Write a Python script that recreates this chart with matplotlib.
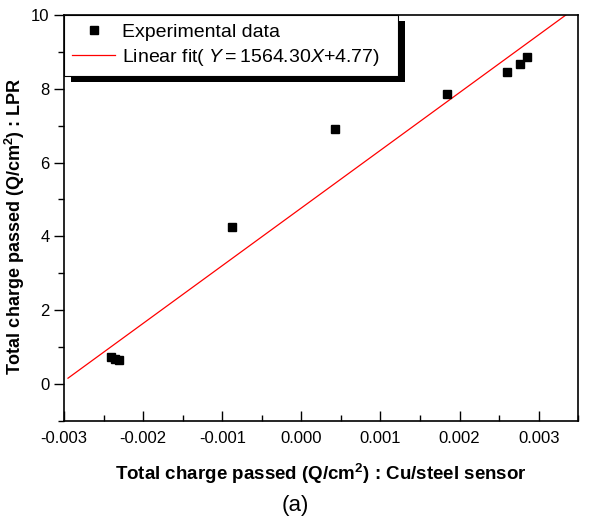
import numpy as np
import matplotlib.pyplot as plt
from matplotlib.patches import Rectangle
from matplotlib.transforms import IdentityTransform
from matplotlib.ticker import MultipleLocator

plt.rcParams['font.family'] = ['Liberation Sans', 'DejaVu Sans']
plt.rcParams['mathtext.fontset'] = 'custom'
plt.rcParams['mathtext.rm'] = 'Liberation Sans'
plt.rcParams['mathtext.it'] = 'Liberation Sans:italic'
plt.rcParams['mathtext.bf'] = 'Liberation Sans:bold'

# data
x_data = [-0.00241, -0.00235, -0.00230, -0.000876, 0.000427, 0.001836, 0.002593, 0.002762, 0.002851]
y_data = [0.72, 0.67, 0.64, 4.26, 6.90, 7.87, 8.45, 8.67, 8.87]
slope = 1564.30
intercept = 4.77
fit_x = [-0.00295, 0.0036]

fig = plt.figure(figsize=(6.1, 5.26), dpi=100)
ax = fig.add_axes([0.105, 0.2, 0.843, 0.7715])

fx = np.array(fit_x)
ax.plot(fx, slope * fx + intercept, color='red', lw=0.9,
        label='Linear fit( $\\mathit{Y{=}1564.30X{+}4.77}$)')
ax.plot(x_data, y_data, 's', color='black', ms=6, ls='none', label='Experimental data')

ax.set_xlim(-0.003, 0.0035)
ax.set_ylim(-1, 10)
ax.xaxis.set_major_locator(MultipleLocator(0.001))
ax.xaxis.set_minor_locator(MultipleLocator(0.0005))
ax.yaxis.set_major_locator(MultipleLocator(2))
ax.yaxis.set_minor_locator(MultipleLocator(1))
ax.xaxis.set_major_formatter(plt.FuncFormatter(lambda v, p: '%.3f' % v))
ax.tick_params(axis='x', which='both', direction='in', labelsize=12, pad=7)
ax.tick_params(axis='y', which='both', direction='out', labelsize=12)
ax.tick_params(which='major', length=7, width=1)
ax.tick_params(which='minor', length=4, width=1)
for s in ax.spines.values():
    s.set_linewidth(1.2)

ax.set_xlabel('Total charge passed (Q/cm$\\mathbf{^2}$) : Cu/steel sensor',
              fontsize=13.5, fontweight='bold', labelpad=12)
ax.set_ylabel('Total charge passed (Q/cm$\\mathbf{^2}$) : LPR',
              fontsize=13, fontweight='bold')
ax.yaxis.set_label_coords(-0.072, 0.48)

h, l = ax.get_legend_handles_labels()
leg = ax.legend(h[::-1], l[::-1], loc='upper left', bbox_to_anchor=(0, 1, 0.65, 0),
                mode='expand', borderaxespad=0, fontsize=14,
                frameon=True, fancybox=False, edgecolor='black', facecolor='white',
                framealpha=1, handlelength=2.2, handletextpad=0.35, borderpad=0.42,
                labelspacing=0.3)
leg.get_frame().set_linewidth(0.8)
leg.set_zorder(5)

fig.canvas.draw()
bb = leg.get_window_extent()
sh = Rectangle((bb.x0 + 7, bb.y0 - 6), bb.width, bb.height, transform=IdentityTransform(),
               facecolor='black', edgecolor='none', zorder=4, clip_on=False)
ax.add_artist(sh)
fig.text(295 / 610, 1 - 505 / 526, '(a)', fontsize=16, ha='center', va='center')

fig.savefig('out.png', dpi=100)
